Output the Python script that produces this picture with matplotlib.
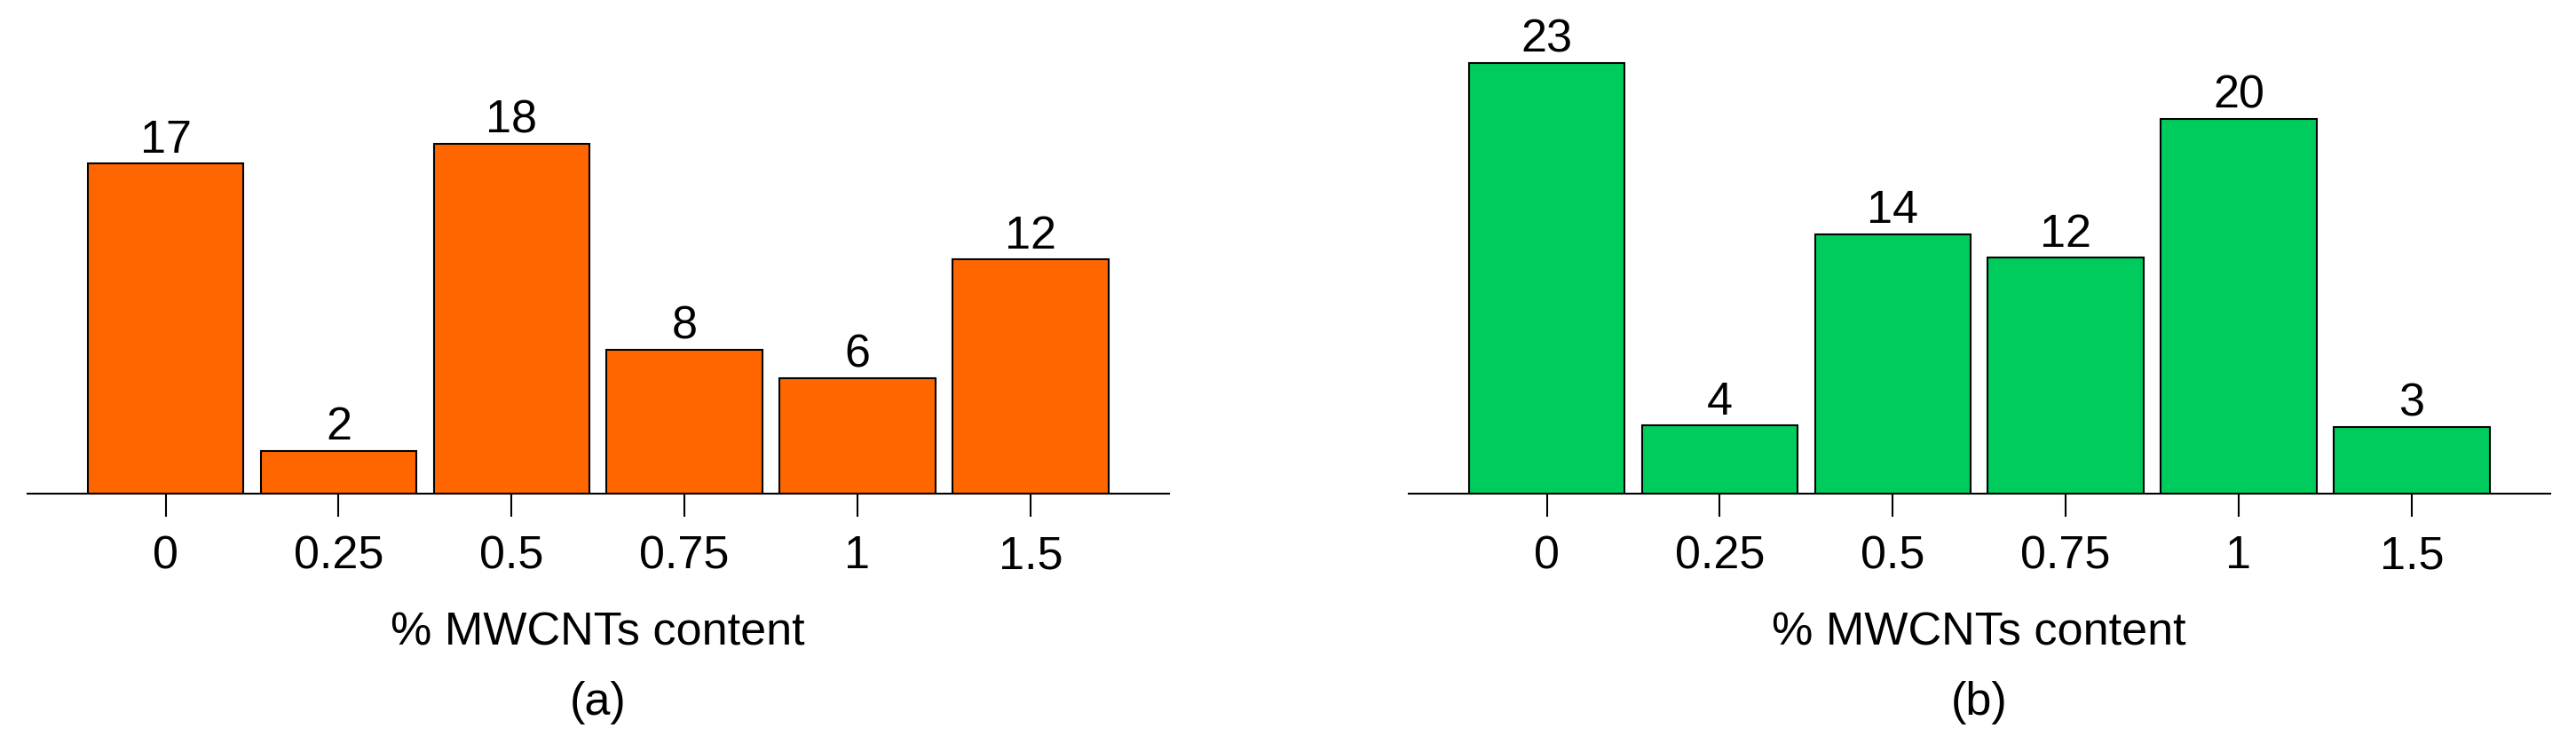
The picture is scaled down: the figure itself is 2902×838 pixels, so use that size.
import matplotlib
matplotlib.use("Agg")
import matplotlib.pyplot as plt

plt.rcParams['font.family'] = ['Liberation Sans', 'DejaVu Sans']

categories = ["0", "0.25", "0.5", "0.75", "1", "1.5"]
heights_a = [17, 2.2, 18, 7.4, 5.95, 12.05]
labels_a = ["17", "2", "18", "8", "6", "12"]
heights_b = [23, 3.65, 13.85, 12.6, 20, 3.55]
labels_b = ["23", "4", "14", "12", "20", "3"]
xlabel = "% MWCNTs content"
panel_tags = ["(a)", "(b)"]

W, H = 2902, 838
DPI = 100
fig = plt.figure(figsize=(W / DPI, H / DPI), dpi=DPI)

FS = 37.5
LW = 1.5


def px_axes(left, right, base_y):
    return [left / W, (H - base_y) / H, (right - left) / W, base_y / H]


panels = [
    (px_axes(30.7, 1316.7, 556), heights_a, labels_a, "#FF6600", 556 / 21.88, panel_tags[0]),
    (px_axes(1586.7, 2872.7, 556), heights_b, labels_b, "#00CC5E", 556 / 21.09, panel_tags[1]),
]

for rect, heights, labels, color, ymax, tag in panels:
    ax = fig.add_axes(rect)
    x = list(range(len(categories)))
    bars = ax.bar(x, heights, width=0.9, color=color, edgecolor="black",
                  linewidth=LW, zorder=2)
    for b, lab in zip(bars, labels):
        ax.annotate(lab, (b.get_x() + b.get_width() / 2, b.get_height()),
                    xytext=(0, 9), textcoords="offset points",
                    ha="center", va="baseline", fontsize=FS)
    ax.set_xlim(-0.8, 5.8)
    ax.set_ylim(0, ymax)
    for s in ["top", "left", "right"]:
        ax.spines[s].set_visible(False)
    ax.spines["bottom"].set_linewidth(LW)
    ax.spines["bottom"].set_zorder(3)
    ax.set_yticks([])
    ax.set_xticks(x, categories)
    ax.tick_params(axis="x", length=18.7, width=LW, pad=14.5, labelsize=FS)
    ax.set_xlabel(xlabel, fontsize=FS, labelpad=27)
    ax.patch.set_alpha(0)
    cx = rect[0] + rect[2] / 2
    fig.text(cx, (H - 805) / H, tag, ha="center", va="baseline", fontsize=FS)

fig.savefig("out.png", dpi=DPI)
